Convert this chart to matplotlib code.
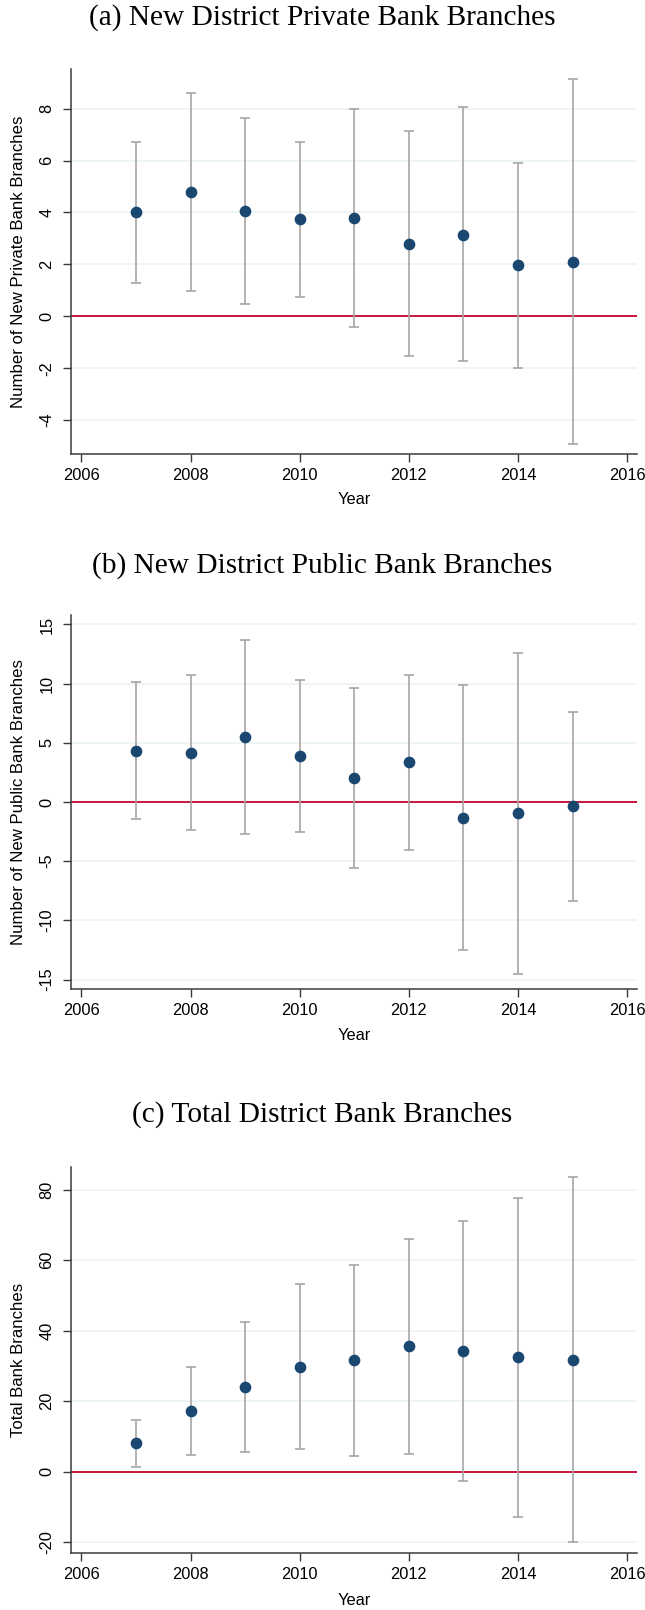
import matplotlib
matplotlib.use("Agg")
import matplotlib.pyplot as plt

years = [2007, 2008, 2009, 2010, 2011, 2012, 2013, 2014, 2015]

private_est = [4.00, 4.77, 4.04, 3.73, 3.79, 2.78, 3.14, 1.96, 2.10]
private_lo = [1.29, 0.96, 0.47, 0.74, -0.40, -1.54, -1.74, -2.00, -4.92]
private_hi = [6.71, 8.62, 7.63, 6.73, 7.97, 7.13, 8.05, 5.91, 9.13]

public_est = [4.31, 4.17, 5.47, 3.86, 2.00, 3.35, -1.33, -0.96, -0.37]
public_lo = [-1.47, -2.34, -2.71, -2.57, -5.61, -4.03, -12.49, -14.52, -8.35]
public_hi = [10.12, 10.71, 13.67, 10.35, 9.67, 10.74, 9.87, 12.60, 7.64]

total_est = [8.03, 17.09, 23.98, 29.65, 31.63, 35.51, 34.28, 32.39, 31.63]
total_lo = [1.42, 4.72, 5.67, 6.33, 4.53, 5.00, -2.55, -12.75, -20.10]
total_hi = [14.64, 29.65, 42.49, 53.16, 58.73, 66.10, 71.10, 77.50, 83.50]

x_ticks = [2006, 2008, 2010, 2012, 2014, 2016]

panels = [
    dict(title="(a) New District Private Bank Branches",
         ylabel="Number of New Private Bank Branches",
         est=private_est, lo=private_lo, hi=private_hi,
         yticks=[-4, -2, 0, 2, 4, 6, 8], ylim=(-5.31, 9.53)),
    dict(title="(b) New District Public Bank Branches",
         ylabel="Number of New Public Bank Branches",
         est=public_est, lo=public_lo, hi=public_hi,
         yticks=[-15, -10, -5, 0, 5, 10, 15], ylim=(-15.8, 15.8)),
    dict(title="(c) Total District Bank Branches",
         ylabel="Total Bank Branches",
         est=total_est, lo=total_lo, hi=total_hi,
         yticks=[-20, 0, 20, 40, 60, 80], ylim=(-23.1, 86.4)),
]

W, H = 645, 1610
fig = plt.figure(figsize=(W / 100, H / 100), dpi=100)

# pixel layout: (axes top, axes bottom, title centre, xlabel centre)
layout = [(69, 454, 18, 500), (615, 989, 566, 1035), (1167, 1553, 1115, 1600)]
ax_left, ax_right = 71, 637

navy = "#1a476f"
bar_grey = "#a6a6a6"
zero_red = "#c8143c"
grid_col = "#eaf2f3"
spine_col = "#3a3a3a"
sans = ["Liberation Sans", "DejaVu Sans"]
serif = ["Liberation Serif", "DejaVu Serif"]
fs = 11.8

for p, (top, bot, ty, xly) in zip(panels, layout):
    ax = fig.add_axes([ax_left / W, 1 - bot / H, (ax_right - ax_left) / W, (bot - top) / H])
    ax.set_xlim(2005.81, 2016.18)
    ax.set_ylim(*p["ylim"])

    for t in p["yticks"]:
        if t != 0:
            ax.axhline(t, color=grid_col, lw=1.1, zorder=0)
    ax.axhline(0, color=zero_red, lw=1.4, zorder=1)

    est, lo, hi = p["est"], p["lo"], p["hi"]
    yerr = [[e - l for e, l in zip(est, lo)], [h - e for e, h in zip(est, hi)]]
    ax.errorbar(years, est, yerr=yerr, fmt="none", ecolor=bar_grey,
                elinewidth=1.2, capsize=3.5, capthick=1.2, zorder=2)
    ax.plot(years, est, "o", color=navy, markersize=7.4, zorder=3)

    for side in ("top", "right"):
        ax.spines[side].set_visible(False)
    for side in ("left", "bottom"):
        ax.spines[side].set_color(spine_col)
        ax.spines[side].set_linewidth(1.1)

    ax.set_xticks(x_ticks)
    ax.set_xticklabels([str(v) for v in x_ticks], fontsize=fs, family=sans)
    ax.set_yticks(p["yticks"])
    ax.set_yticklabels([str(v) for v in p["yticks"]], fontsize=fs, family=sans,
                       rotation=90, va="center")
    ax.tick_params(axis="both", direction="out", length=6, width=1.0,
                   color=spine_col, pad=4)
    ax.tick_params(axis="y", pad=6)

    ax.set_ylabel(p["ylabel"], fontsize=12.1, family=sans)
    ax.yaxis.set_label_coords(-(ax_left - 26) / (ax_right - ax_left), 0.5)

    fig.text(0.5 * (ax_left + ax_right) / W, 1 - xly / H, "Year",
             ha="center", va="center", fontsize=fs, family=sans)
    fig.text(0.5, 1 - ty / H, p["title"], ha="center", va="center",
             fontsize=21.2, family=serif)

fig.savefig("out.png", dpi=100)
